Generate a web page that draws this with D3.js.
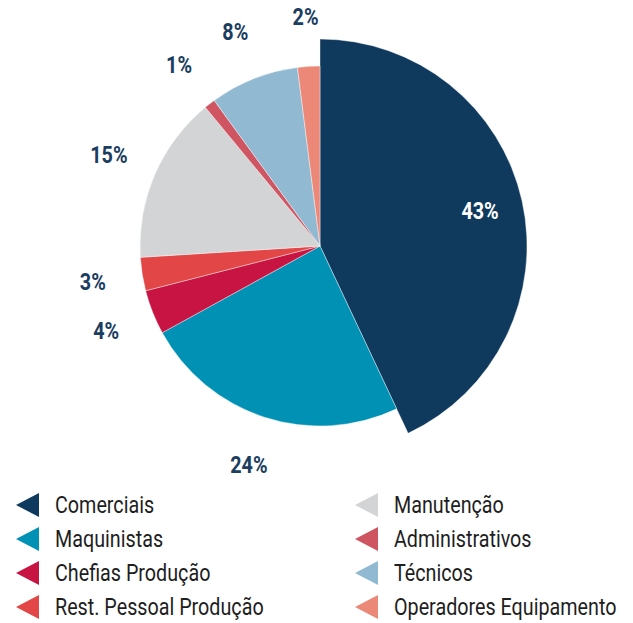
<!DOCTYPE html>
<html>
<head>
<meta charset="utf-8">
<script src="https://cdn.jsdelivr.net/npm/d3@7"></script>
<style>
  body { margin: 0; background: #fff; }
  text { font-family: "Roboto", "Noto Sans", sans-serif; }
</style>
</head>
<body>
<script>
// data
var categories = ["Comerciais", "Maquinistas", "Chefias Produção", "Rest. Pessoal Produção",
  "Manutenção", "Administrativos", "Técnicos", "Operadores Equipamento"];
var values = [43, 24, 4, 3, 15, 1, 8, 2];
var colors = ["#0f3a5e", "#0091b5", "#c81443", "#e34646",
  "#d3d4d6", "#cf5562", "#91b9d1", "#ec8878"];

window.onload = () => {
  var width = 633, height = 623;
  var cx = 320, cy = 246, radius = 180;

  var svg = d3.select("body").append("svg")
    .attr("width", width)
    .attr("height", height);

  var data = categories.map(function (c, i) {
    return { name: c, value: values[i], color: colors[i], idx: i };
  });

  var pie = d3.pie().sort(null).value(function (d) { return d.value; });
  var arcs = pie(data);

  var arc = d3.arc().innerRadius(0).outerRadius(function (d) {
    // first slice is drawn bigger
    return d.index === 0 ? radius * 1.15 : radius;
  });

  var g = svg.append("g")
    .attr("transform", "translate(" + cx + "," + cy + ")");

  g.selectAll("path")
    .data(arcs)
    .enter().append("path")
    .attr("d", arc)
    .attr("fill", function (d) { return d.data.color; })
    .attr("stroke", "#fff")
    .attr("stroke-width", 0.4);

  // labels
  var labelArc = d3.arc().innerRadius(230).outerRadius(230);
  var innerArc = d3.arc().innerRadius(164).outerRadius(164);

  g.selectAll("text.pct")
    .data(arcs)
    .enter().append("text")
    .attr("class", "pct")
    .attr("transform", function (d) {
      var p = d.index === 0 ? innerArc.centroid(d) : labelArc.centroid(d);
      return "translate(" + p[0] + "," + p[1] + ") scale(0.86,1)";
    })
    .attr("text-anchor", "middle")
    .attr("dy", "0.36em")
    .attr("font-size", 23)
    .attr("font-weight", "bold")
    .attr("fill", function (d) { return d.index === 0 ? "#fff" : "#1a3d60"; })
    .text(function (d) { return d.data.value + "%"; });

  // legend
  var col = d3.scaleOrdinal().domain([0, 1]).range([16, 355]);
  var row = d3.scaleLinear().domain([0, 3]).range([505, 607]);

  var leg = svg.selectAll("g.leg")
    .data(data)
    .enter().append("g")
    .attr("class", "leg")
    .attr("transform", function (d) {
      return "translate(" + col(Math.floor(d.idx / 4)) + "," + row(d.idx % 4) + ")";
    });

  leg.append("path")
    .attr("d", "M0,0L23,-12L23,12Z")
    .attr("fill", function (d) { return d.color; });

  leg.append("text")
    .attr("transform", "translate(39,8) scale(0.84,1)")
    .attr("font-size", 23.5)
    .attr("fill", "#1e1e1e")
    .text(function (d) { return d.name; });
};
</script>
</body>
</html>
